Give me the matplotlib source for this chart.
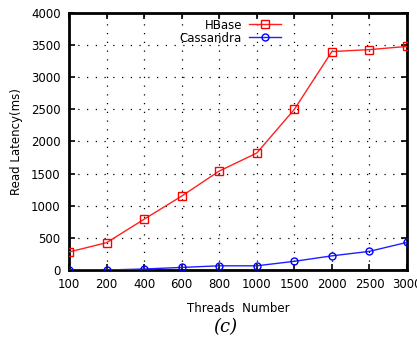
import matplotlib
matplotlib.use("Agg")
import matplotlib.pyplot as plt
import numpy as np

threads = ["100", "200", "400", "600", "800", "1000", "1500", "2000", "2500", "3000"]
hbase = [280, 425, 790, 1150, 1540, 1820, 2500, 3400, 3430, 3480]
cassandra = [0, 0, 15, 40, 65, 65, 135, 220, 290, 430]
yticks = [0, 500, 1000, 1500, 2000, 2500, 3000, 3500, 4000]

fig = plt.figure(figsize=(4.17, 3.46), dpi=100)
ax = fig.add_axes([0.1655, 0.2197, 0.8105, 0.7427])
x = np.arange(len(threads))

ax.plot(x, hbase, color="#ff2020", lw=1.0, marker="s", ms=5.5, mfc="none",
        mec="#ff0000", mew=1.0, label="HBase", zorder=3)
ax.plot(x, cassandra, color="#2020ff", lw=1.0, marker="o", ms=5, mfc="none",
        mec="#0000ff", mew=1.0, label="Cassandra", zorder=3)

ax.set_xlim(0, len(threads) - 1)
ax.set_ylim(0, 4000)
ax.set_xticks(x)
ax.set_xticklabels(threads)
ax.set_yticks(yticks)
ax.tick_params(direction="in", top=True, right=True, length=4, width=1.2,
               labelsize=8.5, pad=6)
ax.grid(True, color="black", ls=(0, (1, 6)), lw=0.9)
for s in ax.spines.values():
    s.set_linewidth(2)

ax.set_xlabel("Threads  Number", fontsize=8.5, labelpad=8)
ax.set_ylabel("Read Latency(ms)", fontsize=8.5, labelpad=6)

leg = ax.legend(loc="upper left", bbox_to_anchor=(0.30, 1.015), frameon=False,
                fontsize=8.5, markerfirst=False, handlelength=2.7,
                borderpad=0.3, labelspacing=0.0, handletextpad=0.6)
for t in leg.get_texts():
    t.set_ha("right")
    t.set_position((0, 0))

fig.text(0.54, 0.03, "(c)", fontsize=13, style="italic", family="serif",
         ha="center", va="bottom")

fig.savefig("out.png", dpi=100)
